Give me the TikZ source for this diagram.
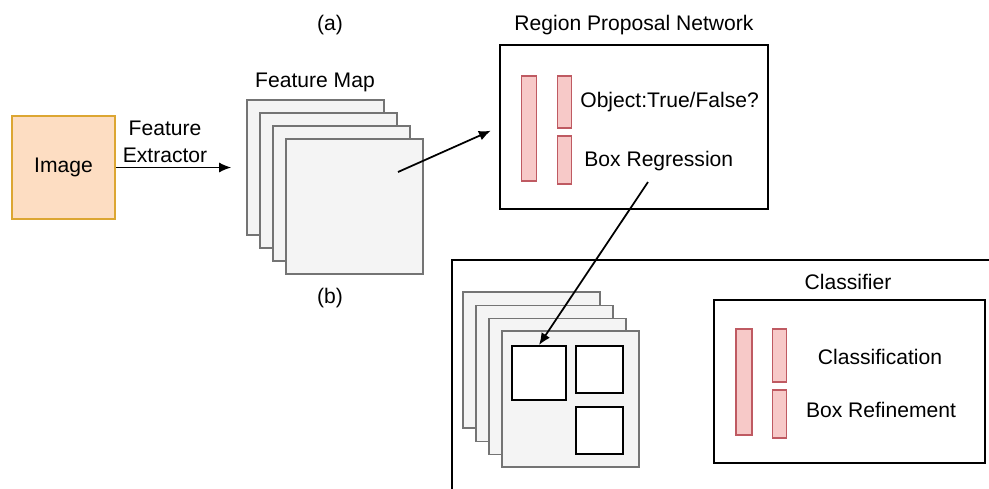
\documentclass[tikz,border=0pt]{standalone}
\usepackage{fontspec}
\setmainfont{Liberation Sans}
\usetikzlibrary{positioning,arrows.meta}
\definecolor{imgfill}{HTML}{FDDDC2}
\definecolor{imgline}{HTML}{DCA632}
\definecolor{barfill}{HTML}{F7C9C8}
\definecolor{barline}{HTML}{BF5A62}
\definecolor{sheetfill}{HTML}{F4F4F4}
\definecolor{sheetline}{HTML}{747474}
\tikzset{
  sheet/.style={draw=sheetline,fill=sheetfill,line width=1.1pt,inner sep=0pt,minimum width=2.74cm,minimum height=2.7cm},
  bar/.style={draw=barline,fill=barfill,line width=0.8pt,inner sep=0pt,minimum width=0.29cm},
  blockbox/.style={draw=black,line width=1.1pt,inner sep=0pt},
  roibox/.style={draw=black,fill=white,line width=1.1pt,inner sep=0pt}
}

\begin{document}
\begin{tikzpicture}[x=0.02cm,y=-0.02cm,font=\fontsize{12}{15}\selectfont,>={Latex[length=2.4mm,width=2mm]}]
\useasboundingbox (0,0) rectangle (989,488);
%the input image
\node [draw=imgline,fill=imgfill,line width=1.1pt,minimum size=2.06cm] (img) at (63.5,167.5) {Image};
\node [align=center] (extr) at (165,142) {Feature\\Extractor};
%the feature map stack
\node [sheet] (fm1) at (315.5,167.5) {};
\node [sheet] (fm2) at (328.5,180.5) {};
\node [sheet] (fm3) at (341.5,193.5) {};
\node [sheet] (fm4) at (354.5,206.5) {};
\node (fmlabel) at (315,82) {Feature Map};
\node (capa) at (330,25) {(a)};
\node (capb) at (330,298) {(b)};
\coordinate (fmout) at (398,172);
%the region proposal network
\node [blockbox,minimum width=5.36cm,minimum height=3.28cm] (rpn) at (634,127) {};
\node (rpnlabel) at (634,25) {Region Proposal Network};
\node [bar,minimum height=2.1cm] (rbar1) at (529,128.5) {};
\node [bar,minimum height=1.04cm] (rbar2) at (564.5,102) {};
\node [bar,minimum height=0.96cm] (rbar3) at (564.5,160) {};
\node [anchor=west,inner sep=0pt] (objq) at (580,102) {Object:True/False?};
\node [anchor=west,inner sep=0pt] (boxreg) at (584,161) {Box Regression};
\coordinate (rpnout) at (648,182);
%the second stage, cut off by the border
\begin{scope}
\clip (0,0) rectangle (989,488);
\node [blockbox,minimum width=10.96cm,minimum height=4.8cm] (stage2) at (726,380) {};
\end{scope}
\node [sheet,minimum height=2.72cm] (rs1) at (531.5,360) {};
\node [sheet,minimum height=2.72cm] (rs2) at (544.5,373.5) {};
\node [sheet,minimum height=2.72cm] (rs3) at (557.5,386.5) {};
\node [sheet,minimum height=2.72cm] (rs4) at (570.5,399) {};
\node [roibox,minimum size=1.08cm] (roi1) at (539,373) {};
\node [roibox,minimum size=0.94cm] (roi2) at (599.5,369.5) {};
\node [roibox,minimum size=0.94cm] (roi3) at (599.5,430.5) {};
%the classifier
\node [blockbox,minimum width=5.42cm,minimum height=3.26cm] (cls) at (849.5,381.5) {};
\node (clslabel) at (848,282) {Classifier};
\node [bar,minimum height=2.12cm,minimum width=0.32cm] (cbar1) at (744,382) {};
\node [bar,minimum height=1.06cm] (cbar2) at (779.5,355.5) {};
\node [bar,minimum height=0.96cm] (cbar3) at (779.5,414) {};
\node (clsf) at (880,357) {Classification};
\node (boxref) at (881,410) {Box Refinement};
%the arrows
\draw[->,line width=0.6pt,shorten >=0.3cm] (img.east) -- (fm1.west);

\draw[->,line width=1pt,shorten >=0.18cm] (fmout) -- (rpn.west);

\draw[->,line width=1pt] (rpnout) -- (roi1.north);

\end{tikzpicture}
\end{document}
